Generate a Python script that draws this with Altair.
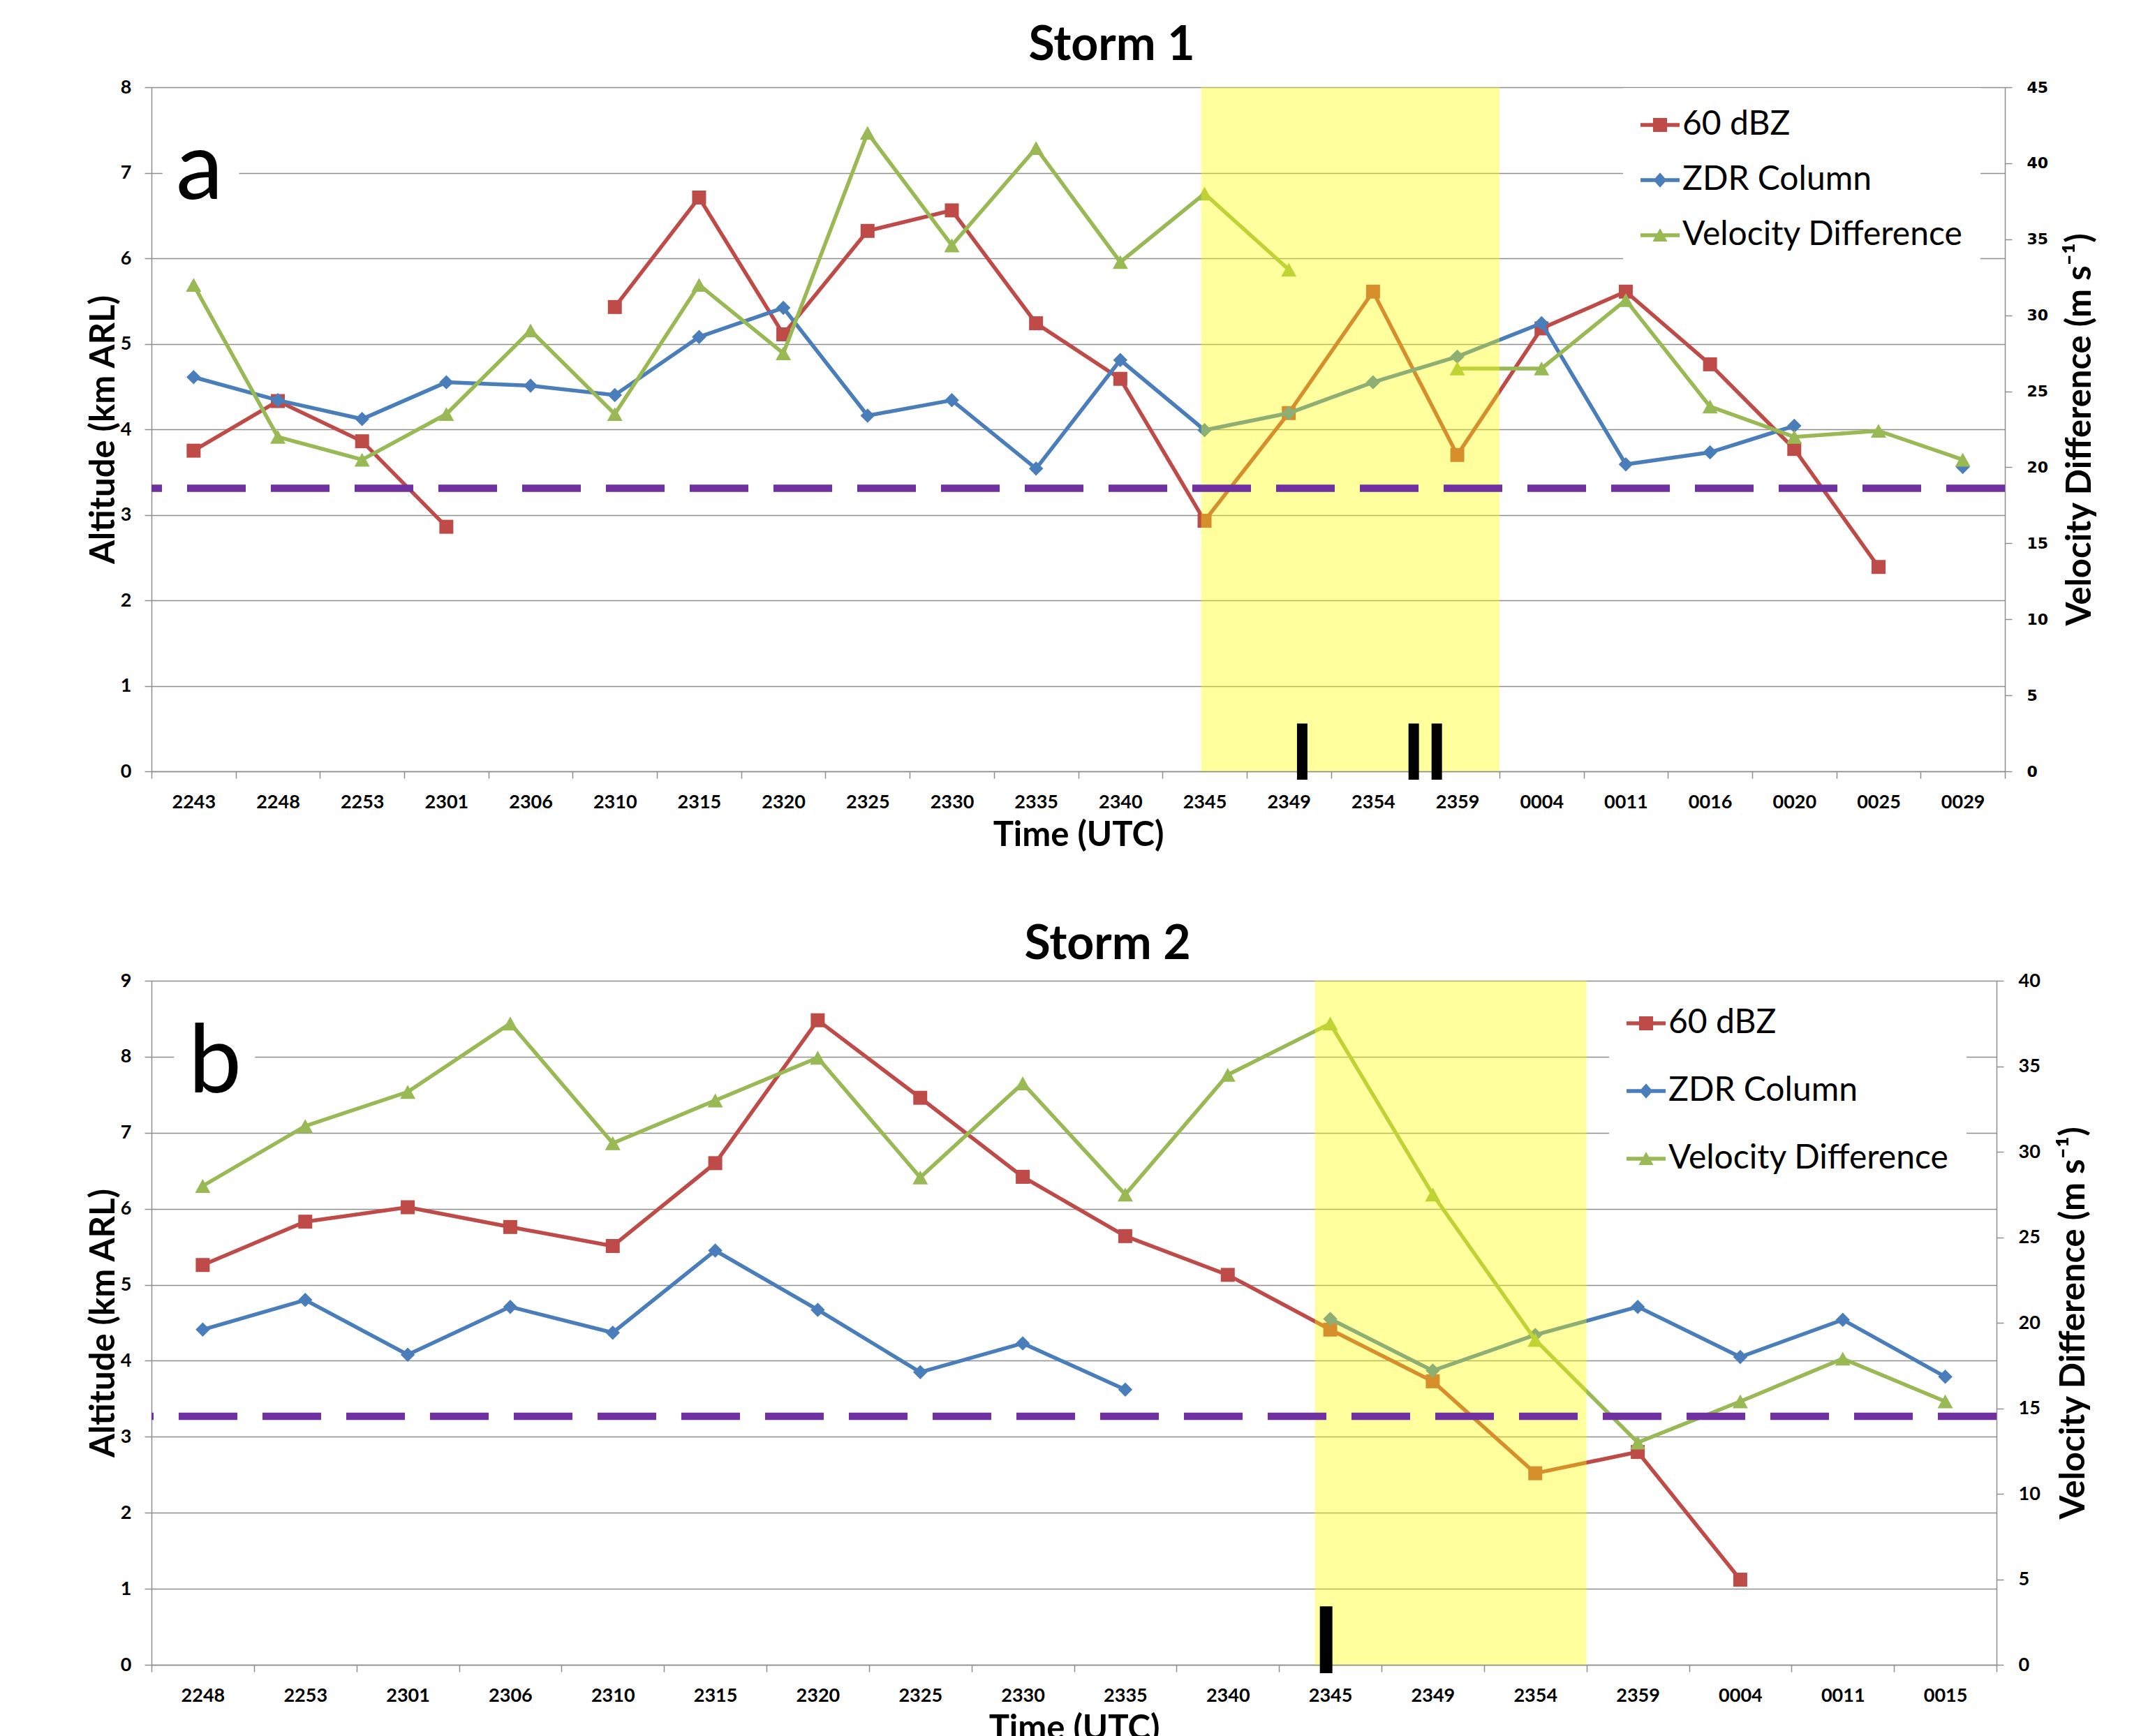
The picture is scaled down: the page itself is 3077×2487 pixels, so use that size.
import altair as alt
import pandas as pd

# ---------------- data ----------------
series_names = ["60 dBZ", "ZDR Column", "Velocity Difference"]
series_colors = ["#BE4B48", "#4A7EBB", "#98B954"]

cats_a = ["2243", "2248", "2253", "2301", "2306", "2310", "2315", "2320", "2325", "2330", "2335",
          "2340", "2345", "2349", "2354", "2359", "0004", "0011", "0016", "0020", "0025", "0029"]
dbz_a = [3.75, 4.33, 3.86, 2.86, None, 5.43, 6.71, 5.11, 6.32, 6.56, 5.24,
         4.59, 2.93, 4.19, 5.61, 3.70, 5.18, 5.61, 4.76, 3.77, 2.39, None]
zdr_a = [4.61, 4.34, 4.12, 4.55, 4.51, 4.40, 5.08, 5.42, 4.16, 4.34, 3.54,
         4.81, 3.99, 4.19, 4.55, 4.85, 5.24, 3.59, 3.73, 4.04, None, 3.56]
vel_a = [32.0, 22.0, 20.5, 23.5, 29.0, 23.5, 32.0, 27.5, 42.0, 34.6, 41.0,
         33.5, 38.0, 33.0, None, 26.5, 26.5, 31.0, 24.0, 22.0, 22.4, 20.5]
threshold_a = 3.31

cats_b = ["2248", "2253", "2301", "2306", "2310", "2315", "2320", "2325", "2330",
          "2335", "2340", "2345", "2349", "2354", "2359", "0004", "0011", "0015"]
dbz_b = [5.26, 5.83, 6.02, 5.76, 5.51, 6.60, 8.48, 7.46, 6.42,
         5.64, 5.13, 4.41, 3.73, 2.52, 2.80, 1.12, None, None]
zdr_b = [4.41, 4.80, 4.08, 4.71, 4.37, 5.45, 4.67, 3.85, 4.23,
         3.62, None, 4.55, 3.87, 4.34, 4.71, 4.05, 4.54, 3.79]
vel_b = [28.0, 31.5, 33.5, 37.5, 30.5, 33.0, 35.5, 28.5, 34.0,
         27.5, 34.5, 37.5, 27.5, 19.0, 13.0, 15.4, 17.9, 15.4]
threshold_b = 3.27

# highlighted period (first / last scan) and roman-numeral event markers
band_a = ["2345", "2359"]
band_b = ["2345", "2354"]
events_a = [("I", "2349"), ("II", "2359")]
events_b = [("I", "2345")]

# ---------------- style ----------------
FONT = "Lato"
GRID = "#8e8e8e"
SQUARE = "M-1,-1H1V1H-1Z"
DIAMOND = "M0,-1L1,0L0,1L-1,0Z"
TRIANGLE = "M0,-0.9L1,0.9L-1,0.9Z"
LEG_LINE = "M-1,-0.1H1V0.1H-1Z"
leg_paths = [
    LEG_LINE + "M-0.36,-0.36H0.36V0.36H-0.36Z",
    LEG_LINE + "M0,-0.38L0.34,0L0,0.38L-0.34,0Z",
    LEG_LINE + "M0,-0.36L0.38,0.32L-0.38,0.32Z",
]


def segments(cats, vals):
    rows, seg, prev = [], 0, False
    for i, (c, v) in enumerate(zip(cats, vals)):
        if v is None:
            if prev:
                seg += 1
            prev = False
        else:
            rows.append({"t": c, "v": v, "seg": seg, "i": i})
            prev = True
    return pd.DataFrame(rows)


def panel(cfg):
    cats = cfg["cats"]
    W, H = cfg["width"], cfg["height"]
    ymax, vmax = cfg["ymax"], cfg["vmax"]

    xscale = alt.Scale(type="band", domain=cats, paddingInner=0, paddingOuter=0)
    xaxis = alt.Axis(grid=False, tickBand="extent", tickSize=10, tickColor=GRID, tickWidth=1.5,
                     domainColor=GRID, domainWidth=1.5, labelFont=FONT, labelFontSize=27,
                     labelFontWeight="bold", labelColor="black", labelPadding=21, labelAngle=0,
                     titleFont=FONT, titleFontSize=49, titleFontWeight="bold", titleColor="black",
                     titleBaseline="alphabetic", titleY=106, titleX=W / 2)

    def X(field, bp=0.5):
        return alt.X(f"{field}:N", scale=xscale, axis=xaxis, title="Time (UTC)", bandPosition=bp)

    lscale = alt.Scale(domain=[0, ymax], nice=False, zero=True)
    laxis = alt.Axis(values=list(range(0, ymax + 1)), grid=True, gridColor=GRID, gridWidth=1.5,
                     domainColor=GRID, domainWidth=1.5, tickColor=GRID, tickWidth=1.5, tickSize=10,
                     labelFont=FONT, labelFontSize=27, labelFontWeight="bold", labelColor="black",
                     labelPadding=19, titleFont=FONT, titleFontSize=49, titleFontWeight="bold",
                     titleColor="black", titleAngle=270, titleBaseline="alphabetic",
                     titleX=-54, titleY=H / 2)
    rscale = alt.Scale(domain=[0, vmax], nice=False, zero=True)
    raxis = alt.Axis(orient="right", values=list(range(0, vmax + 1, 5)), grid=False,
                     domainColor=GRID, domainWidth=1.5, tickColor=GRID, tickWidth=1.5, tickSize=10,
                     labelFont=cfg["rfont"], labelFontSize=cfg["rsize"], labelFontWeight="bold",
                     labelColor="black", labelPadding=21, titleFont=FONT, titleFontSize=49,
                     titleFontWeight="bold", titleColor="black", titleAngle=270,
                     titleBaseline="alphabetic", titleX=cfg["rtitle_x"], titleY=H / 2)
    tscale = alt.Scale(domain=[0, ymax], nice=False, zero=True)
    ytitle = "Altitude (km ARL)"
    rtitle = "Velocity Difference (m s\u207b\u00b9)"

    def series(vals, color, shape, size, scale, axis, title):
        d = segments(cats, vals)
        base = alt.Chart(d)
        line = base.mark_line(color=color, strokeWidth=5.5).encode(
            x=X("t"), y=alt.Y("v:Q", scale=scale, axis=axis, title=title),
            detail="seg:N", order="i:Q")
        pts = base.mark_point(shape=shape, filled=True, size=size, color=color,
                              opacity=1, strokeWidth=0).encode(
            x=X("t"), y=alt.Y("v:Q", scale=scale, axis=axis, title=title))
        return [line, pts]

    left = alt.layer(
        *series(cfg["dbz"], series_colors[0], SQUARE, 400, lscale, laxis, ytitle),
        *series(cfg["zdr"], series_colors[1], DIAMOND, 420, lscale, laxis, ytitle),
    )
    right = alt.layer(
        *series(cfg["vel"], series_colors[2], TRIANGLE, 484, rscale, raxis, rtitle),
    )

    top_layers = []
    # highlighted period (semi-transparent yellow over the series)
    bdf = pd.DataFrame({"s": [cfg["band"][0]], "e": [cfg["band"][1]], "lo": [0], "hi": [ymax]})
    top_layers.append(
        alt.Chart(bdf).mark_rect(color="#FFFF00", opacity=0.38).encode(
            x=X("s", cfg["band_bp"][0]),
            x2=alt.X2("e", bandPosition=cfg["band_bp"][1]),
            y=alt.Y("lo:Q", scale=tscale, axis=None), y2="hi")
    )
    # threshold dashed line
    top_layers.append(
        alt.Chart(pd.DataFrame({"y": [cfg["threshold"]]})).mark_rule(
            color="#7030A0", strokeWidth=10.5, strokeDash=[84, 36]).encode(
            y=alt.Y("y:Q", scale=tscale, axis=None))
    )
    # roman numeral event markers
    for (lab, cat), bp in zip(cfg["events"], cfg["event_bp"]):
        edf = pd.DataFrame({"t": [cat], "lab": [lab], "y": [cfg["event_y"]]})
        top_layers.append(
            alt.Chart(edf).mark_text(font=FONT, fontWeight="bold", fontSize=cfg["event_size"],
                                     baseline="alphabetic", align="center", color="black").encode(
                x=X("t", bp), y=alt.Y("y:Q", scale=tscale, axis=None), text="lab:N")
        )
    # panel letter with white box
    lb = cfg["letter_box"]
    top_layers.append(
        alt.Chart(pd.DataFrame({"s": [lb[0]], "e": [lb[2]], "lo": [lb[4]], "hi": [lb[5]]}))
        .mark_rect(color="white", opacity=1).encode(
            x=X("s", lb[1]), x2=alt.X2("e", bandPosition=lb[3]),
            y=alt.Y("lo:Q", scale=tscale, axis=None), y2="hi")
    )
    lt = cfg["letter"]
    top_layers.append(
        alt.Chart(pd.DataFrame({"t": [lt[1]], "lab": [lt[0]], "y": [lt[3]]}))
        .mark_text(font=FONT, fontSize=136, baseline="alphabetic", align="center", color="black")
        .encode(x=X("t", lt[2]), y=alt.Y("y:Q", scale=tscale, axis=None), text="lab:N")
    )
    # legend
    lg = cfg["legend"]
    legend = alt.Legend(orient="none", legendX=lg[0], legendY=lg[1], direction="vertical",
                        title=None, fillColor="white", padding=25, rowPadding=lg[2],
                        symbolSize=3136, symbolStrokeWidth=0, symbolOpacity=1,
                        labelFont=FONT, labelFontSize=48, labelColor="black", labelLimit=1000,
                        labelOffset=4)
    top_layers.append(
        alt.Chart(pd.DataFrame({"series": series_names})).transform_filter("false")
        .mark_point(filled=True, opacity=1, strokeWidth=0).encode(
            color=alt.Color("series:N", scale=alt.Scale(domain=series_names, range=series_colors),
                            legend=legend),
            shape=alt.Shape("series:N", scale=alt.Scale(domain=series_names, range=leg_paths),
                            legend=legend))
    )
    top = alt.layer(*top_layers)

    return alt.layer(left, right, top).resolve_scale(y="independent").properties(
        width=W, height=H,
        title=alt.TitleParams(cfg["title"], font=FONT, fontSize=68, fontWeight="bold",
                              color="black", anchor="middle", frame="group", dx=48,
                              offset=cfg["title_offset"], baseline="alphabetic"))


cfg_a = dict(cats=cats_a, dbz=dbz_a, zdr=zdr_a, vel=vel_a, width=2655, height=980, ymax=8, vmax=45,
             threshold=threshold_a, band=band_a, band_bp=(0.46, 1.0), events=events_a,
             event_bp=[0.66, 0.12], event_y=-0.098, event_size=111,
             letter=("a", "2243", 0.57, 6.69), letter_box=("2243", 0.13, "2248", 0.04, 6.5, 7.5),
             legend=(2108, 1, 27), title="Storm 1", title_offset=-43,
             rfont="DejaVu Sans", rsize=22, rtitle_x=122)
cfg_b = dict(cats=cats_b, dbz=dbz_b, zdr=zdr_b, vel=vel_b, width=2643, height=980, ymax=9, vmax=40,
             threshold=threshold_b, band=band_b, band_bp=(0.35, 1.0), events=events_b,
             event_bp=[0.46], event_y=-0.11, event_size=133,
             letter=("b", "2248", 0.62, 7.53), letter_box=("2248", 0.22, "2253", 0.01, 7.55, 8.45),
             legend=(2088, 8, 45), title="Storm 2", title_offset=-51,
             rfont=FONT, rsize=27, rtitle_x=125)

chart = alt.vconcat(panel(cfg_a), panel(cfg_b), spacing=97).resolve_scale(
    color="independent", shape="independent"
).properties(
    padding={"left": 115, "top": 23, "right": 5, "bottom": 5}
).configure_view(stroke="transparent").configure(background="white")

chart.save("out.html", embed_options={"renderer": "svg", "actions": False})
